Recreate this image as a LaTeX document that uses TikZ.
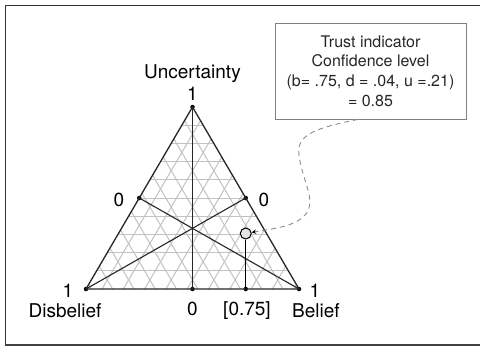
\documentclass[tikz,border=0pt]{standalone}
\usepackage{fontspec}
\setmainfont{TeX Gyre Heros}
\usepackage{tikz}
\usetikzlibrary{arrows.meta}
\definecolor{meshgray}{rgb}{0.76, 0.76, 0.76}
\definecolor{boxgray}{rgb}{0.5, 0.5, 0.5}
\definecolor{linkgray}{rgb}{0.55, 0.55, 0.55}

\begin{document}
\begin{tikzpicture}[x=1pt, y=-1pt,
    dot/.style={circle, fill=black, inner sep=0pt, minimum size=4.5pt},
    lbl/.style={font=\fontsize{19}{22}\selectfont, anchor=base, inner sep=0pt},
    edge/.style={line width=1.3pt, black!85},
    median/.style={line width=1.1pt, black!85},
    meshline/.style={meshgray, line width=1pt}]
    \useasboundingbox (0,0) rectangle (480,348);

    % outer frame
    \draw[line width=0.8pt, black!80] (480,5) -- (5,5) -- (5,345);
    \draw[line width=2pt, black!75] (5,345) -- (480,345);

    % corners of the opinion triangle
    \def\dx{21.3}  % tenth of the base
    \def\dh{18.2}  % tenth of the height
    \coordinate (dis) at (86,289);
    \coordinate (bel) at (299,289);
    \coordinate (unc) at (192.5,107);

    % grey mesh, clipped to the triangle
    \begin{scope}
        \clip (dis) -- (bel) -- (unc) -- cycle;
        \foreach \i in {1,...,9}
            \draw[meshline] (80,289-\i*\dh) -- (305,289-\i*\dh);
        \foreach \k in {0,...,9} {
            \draw[meshline] (86+\k*\dx+0.75*\dx,289) -- ++(106.5,-182);
            \draw[meshline] (86+\k*\dx+0.25*\dx,289) -- ++(-106.5,-182);
        }
    \end{scope}

    % corner and middle dots
    \node[dot] (u) at (unc) {};
    \node[dot] (d) at (dis) {};
    \node[dot] (b) at (bel) {};
    \node[dot] (ml) at (139.25,198) {};
    \node[dot] (mr) at (245.75,198) {};
    \node[dot] (mb) at (192.5,289) {};
    \node[dot] (pb) at (245.75,289) {};

    \draw[edge] (d.center) -- (b.center) -- (u.center) -- cycle;
    \draw[median] (u.center) -- (mb.center);
    \draw[median] (ml.center) -- (b.center);
    \draw[median] (mr.center) -- (d.center);

    % the opinion itself
    \node[circle, draw=black, line width=1pt, fill=gray!20, minimum size=11pt, inner sep=0pt] (op) at (245.75,233.5) {};
    \draw[line width=1.2pt] (op) -- (pb.center);

    % axis labels
    \node[lbl] (uncl) at (192.5,78) {Uncertainty};
    \node[lbl] (u1) at (192.5,100) {1};
    \node[lbl] (l0) at (119,206) {0};
    \node[lbl] (r0) at (264,206) {0};
    \node[lbl] (d1) at (68,297) {1};
    \node[lbl] (disl) at (65,317) {Disbelief};
    \node[lbl] (b0) at (192.5,315) {0};
    \node[lbl] (bv) at (247,315) {[0.75]};
    \node[lbl] (b1) at (315,297) {1};
    \node[lbl] (bell) at (316,317) {Belief};

    % trust box and its link
    \node[draw=boxgray, line width=0.9pt, minimum width=191pt, minimum height=96pt, align=center,
        font=\fontsize{16}{19.7}\selectfont, text=black!85] (box) at (370.5,71)
        {Trust indicator\\Confidence level\\(b= .75, d = .04, u =.21)\\= 0.85};

    \draw[linkgray, line width=0.9pt, dash pattern=on 5pt off 4pt, -{Stealth[length=4.5pt, width=4.5pt, black]}]
        ([xshift=-12.5pt]box.south) .. controls (315,128) and (296,135) .. (299,155)
        .. controls (302,178) and (313,195) .. (309,208)
        .. controls (303,226) and (276,228) .. (op);

\end{tikzpicture}
\end{document}
